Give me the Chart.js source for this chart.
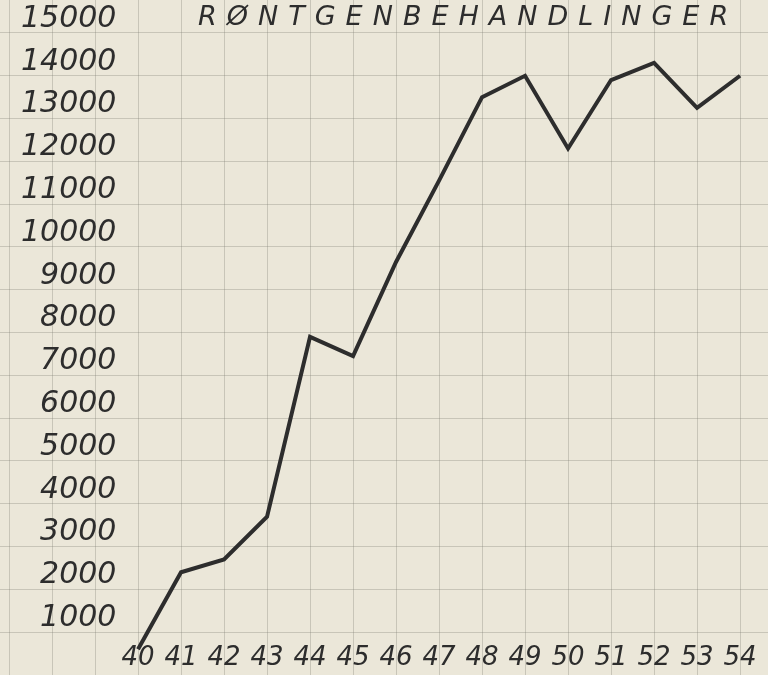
<!DOCTYPE html>
<html>
<head>
<meta charset="utf-8">
<script src="https://cdn.jsdelivr.net/npm/chart.js@4/dist/chart.umd.min.js"></script>
<style>
  html, body { margin: 0; padding: 0; background: #ebe7d9; }
  #wrap { position: relative; width: 768px; height: 675px; overflow: hidden; }
  #title {
    position: absolute; left: 198px; top: 0;
    font: italic 27px "DejaVu Sans"; letter-spacing: 10px;
    color: #2d2d2d; white-space: nowrap;
  }
</style>
</head>
<body>
<div id="wrap">
  <canvas id="chart"></canvas>
  <div id="title">RØNTGENBEHANDLINGER</div>
</div>
<script>
const years = [40, 41, 42, 43, 44, 45, 46, 47, 48, 49, 50, 51, 52, 53, 54]
const behandlinger = [600, 2400, 2700, 3700, 7900, 7450, 9650, 11550, 13500, 14000, 12300, 13900, 14300, 13250, 14000]
const yTicks = [1000, 2000, 3000, 4000, 5000, 6000, 7000, 8000, 9000, 10000, 11000, 12000, 13000, 14000, 15000]
// vertical lines of the squared paper, one per year (37-39 sit under the y labels)
const xGridYears = [37, 38, 39, ...years]

const ink = "#2d2d2d"
const gridColor = "rgba(120, 118, 108, 0.3)"

const noPadding = (scale) => {
  scale.paddingTop = 0
  scale.paddingBottom = 0
  scale.paddingLeft = 0
  scale.paddingRight = 0
}

const ctx = document.getElementById("chart").getContext("2d")

new Chart(ctx, {
  type: "line",
  data: {
    datasets: [{
      label: "Røntgenbehandlinger",
      data: years.map((yr, i) => ({ x: yr, y: behandlinger[i] })),
      borderColor: ink,
      borderWidth: 4,
      pointRadius: 0,
      tension: 0,
      fill: false
    }]
  },
  options: {
    responsive: true,
    maintainAspectRatio: false,
    animation: false,
    layout: { padding: 0 },
    plugins: {
      legend: { display: false },
      tooltip: { enabled: false }
    },
    scales: {
      x: {
        type: "linear",
        min: 36.79,
        max: 54.65,
        position: { y: 794 },
        border: { display: false },
        grid: { drawTicks: false, color: gridColor },
        ticks: {
          autoSkip: false,
          maxRotation: 0,
          padding: 2,
          color: ink,
          font: { family: "DejaVu Sans", style: "italic", size: 26 },
          callback: (v) => years.includes(v) ? String(v) : ""
        },
        afterBuildTicks: (scale) => {
          scale.ticks = xGridYears.map((v) => ({ value: v }))
        },
        afterFit: noPadding
      },
      y: {
        min: 0,
        max: 15770,
        border: { display: false },
        grid: { drawTicks: false, color: gridColor },
        ticks: {
          autoSkip: false,
          mirror: true,
          crossAlign: "far",
          padding: 21,
          labelOffset: -14,
          color: ink,
          font: { family: "DejaVu Sans", style: "italic", size: 30 },
          callback: (v) => String(v)
        },
        afterBuildTicks: (scale) => {
          scale.ticks = yTicks.map((v) => ({ value: v }))
        },
        afterFit: (scale) => {
          scale.width = 0
          noPadding(scale)
        }
      }
    }
  }
})
</script>
</body>
</html>
